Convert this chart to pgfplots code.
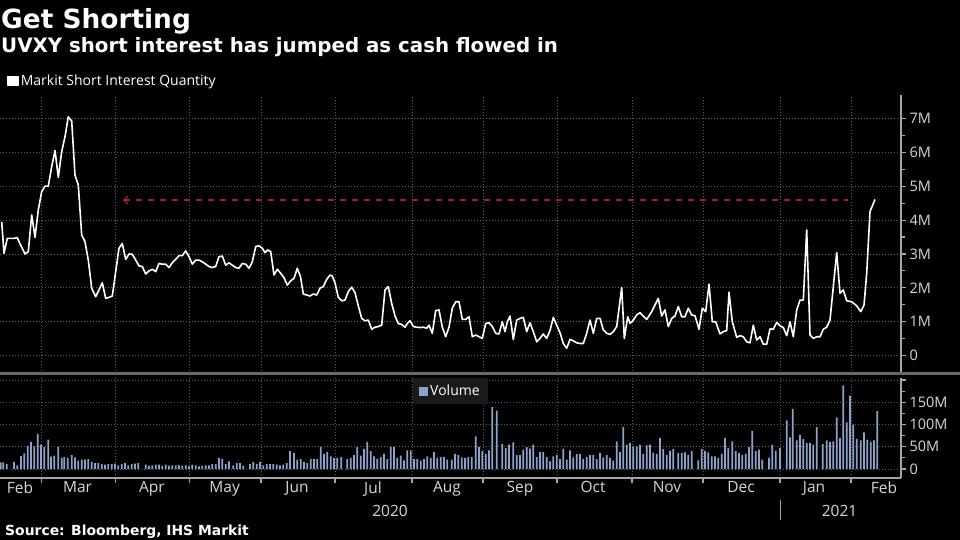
\documentclass[border=0pt]{standalone}
\usepackage{fontspec}
\setmainfont{Open Sans}
\newfontfamily\headfont{DejaVu Sans}
\usepackage{pgfplots}
\pgfplotsset{compat=1.18}
\usetikzlibrary{arrows.meta}

\definecolor{gridc}{RGB}{95,95,95}
\definecolor{axisc}{RGB}{165,165,165}
\definecolor{labc}{RGB}{215,215,215}
\definecolor{volc}{RGB}{140,162,202}
\definecolor{refred}{RGB}{165,30,40}
\definecolor{legbg}{RGB}{26,26,26}
\definecolor{sepc}{RGB}{105,105,105}

% x is chart position (0 = left edge, 901 = right axis); grid at month starts
\pgfplotsset{
  panel/.style={
    scale only axis, width=901pt, xmin=0, xmax=901,
    axis x line*=bottom, axis y line*=right,
    axis line style={-},
    xtick={41.7,115.7,189.7,261,335,412,483,557,632,703,780,851},
    xticklabels={},
    xmajorgrids, ymajorgrids,
    grid style={gridc, line width=0.9pt, dash pattern=on 1pt off 2pt},
    tick align=outside,
    y axis line style={axisc, line width=1.1pt},
    ytick style={axisc, line width=1.1pt},
    major tick length=5pt, minor tick length=4pt,
    minor y tick num=1,
    yticklabel style={labc, font=\fontsize{14.5}{16}\selectfont},
    /pgf/number format/assume math mode=true,
  },
}

\begin{document}
\begin{tikzpicture}
\path[use as bounding box, fill=black] (0,0) rectangle (960pt,540pt);

\node[anchor=base west, white, inner sep=0pt, font=\headfont\bfseries\fontsize{26.4}{28}\selectfont]
  at (1pt,511pt) {Get Shorting};
\node[anchor=base west, white, inner sep=0pt, font=\headfont\bfseries\fontsize{19.8}{22}\selectfont]
  at (1pt,487pt) {UVXY short interest has jumped as cash flowed in};

% short interest
\begin{axis}[panel, at={(0pt,166pt)}, anchor=south west, height=279pt,
  ymin=-0.54, ymax=7.69,
  ytick={0,1,2,3,4,5,6,7}, yticklabels={0,1M,2M,3M,4M,5M,6M,7M},
  x axis line style={draw=none}, xtick style={draw=none},
  legend style={at={(axis description cs:0,1)}, anchor=west, xshift=7pt, yshift=14pt,
    draw=none, fill=none, inner sep=0pt, text=white,
    font=\fontsize{14}{16}\selectfont},
  legend image code/.code={\fill[white] (0pt,-4.5pt) rectangle (10pt,4.5pt);},
]
\addplot[refred, line width=1.2pt, dash pattern=on 6pt off 6pt,
  {Straight Barb[length=4pt,width=8pt]}-, forget plot]
  coordinates {(123,4.59) (848,4.59)};
\addplot[white, line width=1.6pt, line join=round] coordinates {
(1.7,3.95)(4,3.02)(7.3,3.46)(13.3,3.46)(17.3,3.48)(20.7,3.26)(25,3.0)(28.3,3.07)
(31.7,4.15)(35,3.49)(38.3,4.3)(41.7,4.84)(45,5.0)(48.3,5.0)(51.7,5.58)(55,6.05)
(58.3,5.26)(61.7,6.02)(65,6.46)(68.3,7.05)(71.7,6.92)(75,5.33)(78.3,5.03)(81.7,3.56)
(85,3.36)(88.3,2.82)(91.7,1.99)(95.7,1.74)(99,1.94)(102.3,2.15)(105.7,1.69)(109,1.72)
(112.3,1.76)(115.7,2.48)(119,3.17)(122.3,3.31)(125.7,2.84)(129,3.0)(132.3,2.99)(135.7,2.82)
(139,2.65)(142.3,2.63)(145.7,2.41)(149,2.5)(152.3,2.55)(155.7,2.48)(159,2.72)(162.3,2.7)
(165.7,2.7)(169,2.6)(172.3,2.74)(175.7,2.84)(179,2.95)(182.3,2.95)(185.7,3.09)(189,2.92)
(192.3,2.7)(195.7,2.82)(199,2.82)(202.3,2.77)(205.7,2.7)(209,2.63)(212.3,2.6)(215.7,2.63)
(219,2.92)(222.3,2.94)(225.7,2.67)(229,2.74)(232.3,2.67)(235.7,2.6)(239,2.58)(242.3,2.72)
(245.7,2.7)(249,2.58)(252.3,2.77)(255.7,3.22)(259,3.24)(262.3,3.17)(265,3.04)(267.7,3.12)
(270.7,3.07)(274,2.38)(277.3,2.55)(280.7,2.43)(284,2.3)(287.3,2.08)(290.7,2.21)(294,2.28)
(297.3,2.58)(300.5,2.33)(303.3,1.82)(306.7,1.79)(310,1.76)(313.3,1.82)(316.7,1.79)(320,1.99)
(323.3,2.04)(326.7,2.25)(330,2.38)(332.3,2.35)(335,2.15)(338.3,1.72)(341.7,1.62)(345,1.64)
(348.3,1.89)(351.7,2.02)(355,1.86)(358.3,1.47)(361.7,1.1)(365,1.03)(368.3,1.05)(371.7,0.78)
(375,0.84)(378.3,0.86)(381.7,0.9)(385,1.94)(388.3,2.04)(391.7,1.54)(395,1.17)(398.3,0.95)
(401.7,0.92)(405,0.84)(407.3,0.95)(410,1.03)(413.3,0.86)(416.7,0.84)(420,0.83)(423.3,0.84)
(426.7,0.81)(429,0.9)(432.3,0.66)(435.7,1.33)(439,1.35)(442.3,0.84)(445.7,0.56)(449,0.84)
(452.3,1.4)(455.7,1.59)(459,1.59)(462.3,1.07)(465.7,1.07)(469,1.15)(472.3,0.56)(475.7,0.61)
(479,0.56)(482.3,0.51)(485.7,0.95)(489,0.97)(492.3,0.86)(495.7,0.66)(499,0.64)(502.3,1.0)
(505,0.71)(507.3,1.0)(510,1.17)(513.3,0.48)(516.7,1.05)(520,1.1)(523.3,1.13)(526.7,0.71)
(530,0.97)(533.3,0.71)(536.7,0.41)(540,0.51)(543.3,0.64)(546.7,0.51)(550,0.74)(553.3,1.13)
(556.7,0.9)(560,0.68)(563.3,0.36)(566.7,0.22)(570,0.48)(573.3,0.44)(576.7,0.38)(580,0.36)
(583.3,0.36)(586.7,0.66)(590,1.05)(593.3,0.66)(596.7,1.1)(600,1.1)(603.3,0.76)(606.7,0.66)
(610,0.63)(613.3,0.71)(616.7,0.86)(621.7,2.01)(624.3,0.51)(627.7,1.15)(630,0.95)(633.3,1.05)
(636.7,1.2)(640,1.27)(646.7,1.07)(651.7,1.3)(658.3,1.69)(661.7,1.17)(665,1.35)(668.3,0.86)
(671.7,1.1)(675,1.17)(678.3,1.45)(681.7,1.15)(685,1.15)(688.3,1.4)(691.7,1.2)(695,1.18)
(699,0.78)(702.3,1.4)(705.7,1.3)(709,2.11)(712.3,1.0)(715.7,1.0)(720,0.64)(723.3,0.71)
(726.7,0.74)(729,1.87)(732.3,1.0)(736.7,0.54)(740,0.59)(743.3,0.56)(746.7,0.41)(750,0.38)
(753.3,0.9)(756.7,0.46)(760,0.56)(763.3,0.34)(766.7,0.34)(770,0.79)(773.3,0.78)(776.7,0.98)
(780,0.88)(783.3,0.83)(786.7,0.59)(790,1.0)(793.3,0.56)(796.7,1.35)(800,1.64)(803.3,1.64)
(806.7,3.71)(810,0.61)(813.3,0.51)(816.7,0.56)(820,0.56)(823.3,0.78)(826.7,0.84)(830,1.05)
(833.3,2.04)(836.7,3.04)(840,1.84)(843.3,1.94)(846.7,1.62)(851.7,1.59)(856.7,1.47)(860.7,1.3)
(864,1.49)(866.7,2.43)(870,4.25)(875,4.61)
};
\addlegendentry{Markit Short Interest Quantity}
\end{axis}

\fill[sepc] (0pt,164.5pt) rectangle (960pt,167.5pt);

% volume
\begin{axis}[panel, at={(0pt,62pt)}, anchor=south west, height=100pt,
  ymin=-20.2, ymax=204.6,
  ytick={0,50,100,150,200}, yticklabels={0,50M,100M,150M,},
  x axis line style={axisc, line width=1.1pt},
  xtick style={axisc, line width=1.1pt},
  extra x ticks={20,77.5,152,224.7,297,373,447,520,593,667,741,814,884},
  extra x tick labels={Feb,Mar,Apr,May,Jun,Jul,Aug,Sep,Oct,Nov,Dec,Jan,Feb},
  extra x tick style={grid=none, major tick length=0pt,
    xticklabel style={labc, font=\fontsize{15.5}{17}\selectfont}},
  legend style={at={(axis description cs:0,1)}, anchor=north west, xshift=413pt,
    draw=none, fill=legbg, inner xsep=6pt, inner ysep=5pt, text=white,
    font=\fontsize{14}{16}\selectfont},
  legend image code/.code={\fill[volc] (0pt,-4.5pt) rectangle (9pt,4.5pt);},
]
\addplot[ybar, bar width=1.8pt, bar shift=0pt, fill=volc, draw=none] coordinates {
(0.7,15)(3.3,15)(6.7,11)(14,16)(17.3,8)(21,29)(24.3,35)(27.7,52)(31,61)(34.3,51)
(37.7,79)(41,55)(44.3,50)(48.3,66)(51,28)(54.3,30)(58.3,50)(61.7,25)(64.3,27)(67.7,25)
(71.7,31)(75,26)(78.3,19)(81.7,21)(85,21)(88.3,22)(91.7,16)(95,13)(98.3,13)(101.7,11)
(105,10)(108.3,11)(111.7,11)(115,12)(118.3,8)(121.7,11)(125,13)(128.3,8)(131.7,11)(135,12)
(138.3,13)(145.7,10)(149,7)(152.3,8)(155.7,10)(159,10)(162.3,7)(165.7,10)(169,7)(172.3,8)
(175.7,8)(179,8)(182.3,7)(185.7,8)(189,6)(192.3,10)(195.7,8)(199,6)(202.3,7)(205.7,8)
(209,8)(212.3,11)(215.7,11)(219,25)(222.3,23)(225.7,11)(229,17)
(233.3,8)(236.7,13.5)(240,13.5)(243.3,7.5)(250,11)(253.3,16)(256.7,11)(260,16)(263.3,8)
(266.7,11)(270,11)(273.3,11)(276.7,10)(280,8)(283.3,10)(286.7,13.5)(290,41)(294,36)
(297.3,21)(300.7,22.5)(304,16)(307.3,13.5)(310.7,22.5)(314,22.5)(317.3,22.5)(320.7,49.5)
(324,34)(327.3,38)(330.7,28.5)(334,25)(337.3,25)(341.3,27)(347.3,22.5)(350.7,25)(354,31)
(357.3,49)(360.7,30)(364,45)(367.3,61)(370.7,40)(374,28.5)(377.3,23)(380.7,27)(384,34)
(387.3,22.5)(390.7,49.5)(394,49.5)(397.3,25)(400.7,30)(404,19.5)(407.3,42)(410.7,42)
(414,22.5)(417.3,22.5)(420.7,19)(424,22.5)(427.3,28.5)(430.7,25)(434,38)(437.3,25)
(440.7,27)(444,27)(447.3,21)(451.7,21)
(455,34)(458.3,31)(461.7,26)(465,25)(468.3,27)(471.7,27)(475.7,73.5)(479,49.5)(482.3,40)
(485.7,34)(489,42)(492.3,139)(496.7,131)(502.3,56)(505.7,47)(509,55)(513.3,60)(516.7,31)
(520,31)(523.3,43.5)(526.7,49)(530,46)(533.3,55)(536.7,27)(540,38)(543.3,38)(546.7,27)
(550,17)(553.3,28.5)(556.7,32)(560,22.5)(563.3,45)(566.7,21)(570,42)(573.3,26)(576.7,34)
(580,34)(583.3,23)(586.7,27)(590,31)(593.3,32)(596.7,22.5)(600,36)(603.3,26)(606.7,31)
(610,25)(613.3,19)(616.7,62)(620,38)(623.3,94.5)(626.7,55)(630,58.5)(633.3,51)(636.7,51)
(640,55)(643.3,34)(646.7,53)(650,55)(653.3,36)(656.7,34)(660,70)(663.3,45)(666.7,32)
(670,41)(673.3,45)
(678.3,36)(681.7,36)(685,37.5)(688.3,32)(691.7,40)(698.3,19.5)(701.7,45)(705,41)(708.3,37.5)
(711.7,28.5)(715,28.5)(718.3,25)(721.7,34)(725,70)(728.3,47)(732.3,62)(735.7,40)(739,36)
(742.3,31)(745.7,34)(749,49)(752.3,86)(755.7,40)(759,43.5)(762.3,21)(769,25)(772.3,55)
(775.7,41)(780,47)(786.7,109.5)(790,71)(792.7,135)(796.7,64.5)(800,77)(803.3,67.5)
(806.7,58.5)(810,58.5)(813.3,55)(816.7,94)(822.7,56)(826.7,64.5)(830,61)(833.3,62)
(836.7,116)(840,70)(843.3,188)(846.7,105)(850,165)(853.3,100)(856.7,67.5)(860.7,64.5)
(864,82.5)(867.3,66)(870.7,61)(874,64.5)(877.3,130)
};
\addlegendentry{Volume}
\end{axis}

\node[anchor=base, labc, font=\fontsize{15.5}{17}\selectfont] at (390pt,23.3pt) {2020};
\node[anchor=base, labc, font=\fontsize{15.5}{17}\selectfont] at (839.5pt,23.3pt) {2021};
\draw[axisc, line width=1pt] (780.7pt,20pt) -- (780.7pt,40pt);

\node[anchor=base west, white, inner sep=0pt, font=\headfont\bfseries\fontsize{13.9}{16}\selectfont]
  at (5pt,4.5pt) {Source: Bloomberg, IHS Markit};
\end{tikzpicture}
\end{document}
